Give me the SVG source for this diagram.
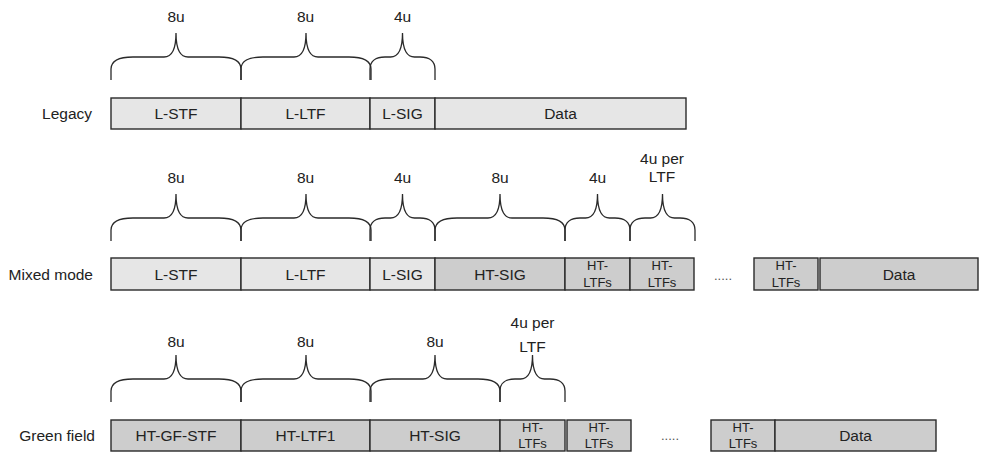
<svg xmlns="http://www.w3.org/2000/svg" xmlns:xlink="http://www.w3.org/1999/xlink" width="982" height="453" viewBox="0 0 982 453">
<style>
text{font-family:"Liberation Sans",Arial,sans-serif;fill:#222;}
.lbl{font-size:15.5px;text-anchor:middle;}
.row{font-size:15.5px;text-anchor:end;}
.sm{font-size:13px;text-anchor:middle;}
.dots{font-size:13px;text-anchor:middle;fill:#555;}
.lt{fill:#e6e6e6;stroke:#2a2a2a;stroke-width:1.4;}
.dk{fill:#cdcdcd;stroke:#2a2a2a;stroke-width:1.4;}
.br{fill:none;stroke:#2a2a2a;stroke-width:1.3;}
</style>
<defs>
<path id="b8" class="br" d="M0,47 V36 C0,28 7,24 22,24 H53 C60,24 65,18 65,0 C65,18 70,24 77,24 H108 C123,24 130,28 130,36 V47"/>
<path id="b4" class="br" d="M0,47 V36 C0,28 6,24 15,24 H20.5 C27.5,24 32.5,18 32.5,0 C32.5,18 37.5,24 44.5,24 H50 C59,24 65,28 65,36 V47"/>
</defs>
<rect width="982" height="453" fill="#fff"/>

<g id="connectors">
<use xlink:href="#b8" href="#b8" x="111" y="33"/>
<use xlink:href="#b8" href="#b8" x="241" y="33"/>
<use xlink:href="#b4" href="#b4" x="370" y="33"/>
<use xlink:href="#b8" href="#b8" x="111" y="194"/>
<use xlink:href="#b8" href="#b8" x="241" y="194"/>
<use xlink:href="#b4" href="#b4" x="370" y="194"/>
<use xlink:href="#b8" href="#b8" x="435" y="194"/>
<use xlink:href="#b4" href="#b4" x="565" y="194"/>
<use xlink:href="#b4" href="#b4" x="630" y="194"/>
<use xlink:href="#b8" href="#b8" x="111" y="355"/>
<use xlink:href="#b8" href="#b8" x="241" y="355"/>
<use xlink:href="#b8" href="#b8" x="370" y="355"/>
<use xlink:href="#b4" href="#b4" x="500" y="355"/>
</g>

<g id="durations">
<text class="lbl" x="176" y="22">8u</text>
<text class="lbl" x="305.5" y="22">8u</text>
<text class="lbl" x="402.5" y="22">4u</text>
<text class="lbl" x="176" y="183">8u</text>
<text class="lbl" x="305.5" y="183">8u</text>
<text class="lbl" x="402.5" y="183">4u</text>
<text class="lbl" x="500" y="183">8u</text>
<text class="lbl" x="597.5" y="183">4u</text>
<text class="lbl" x="662" y="164">4u per</text>
<text class="lbl" x="662" y="182">LTF</text>
<text class="lbl" x="176" y="347">8u</text>
<text class="lbl" x="305.5" y="347">8u</text>
<text class="lbl" x="435" y="347">8u</text>
<text class="lbl" x="532.5" y="328">4u per</text>
<text class="lbl" x="532.5" y="352">LTF</text>
</g>

<g id="legacy">
<text class="row" x="92" y="119">Legacy</text>
<g id="legacy-lstf"><rect class="lt" x="111" y="98" width="130" height="31"/><text class="lbl" x="176" y="119">L-STF</text></g>
<g id="legacy-lltf"><rect class="lt" x="241" y="98" width="129" height="31"/><text class="lbl" x="305.5" y="119">L-LTF</text></g>
<g id="legacy-lsig"><rect class="lt" x="370" y="98" width="65" height="31"/><text class="lbl" x="402.5" y="119">L-SIG</text></g>
<g id="legacy-data"><rect class="lt" x="435" y="98" width="251" height="31"/><text class="lbl" x="560.5" y="119">Data</text></g>
</g>

<g id="mixed">
<text class="row" x="93" y="280">Mixed mode</text>
<g id="mixed-lstf"><rect class="lt" x="111" y="258" width="130" height="32"/><text class="lbl" x="176" y="280">L-STF</text></g>
<g id="mixed-lltf"><rect class="lt" x="241" y="258" width="129" height="32"/><text class="lbl" x="305.5" y="280">L-LTF</text></g>
<g id="mixed-lsig"><rect class="lt" x="370" y="258" width="65" height="32"/><text class="lbl" x="402.5" y="280">L-SIG</text></g>
<g id="mixed-htsig"><rect class="dk" x="435" y="258" width="130" height="32"/><text class="lbl" x="500" y="280">HT-SIG</text></g>
<g id="mixed-htltf1"><rect class="dk" x="565" y="258" width="65" height="32"/><text class="sm" x="597.5" y="270">HT-</text><text class="sm" x="597.5" y="287">LTFs</text></g>
<g id="mixed-htltf2"><rect class="dk" x="630" y="258" width="64" height="32"/><text class="sm" x="662" y="270">HT-</text><text class="sm" x="662" y="287">LTFs</text></g>
<text class="dots" x="723" y="280">.....</text>
<g id="mixed-htltfn"><rect class="dk" x="754" y="258" width="64" height="32"/><text class="sm" x="786" y="270">HT-</text><text class="sm" x="786" y="287">LTFs</text></g>
<g id="mixed-data"><rect class="dk" x="820" y="258" width="158" height="32"/><text class="lbl" x="899" y="280">Data</text></g>
</g>

<g id="green">
<text class="row" x="95" y="441">Green field</text>
<g id="green-gfstf"><rect class="dk" x="111" y="420" width="130" height="31"/><text class="lbl" x="176" y="441">HT-GF-STF</text></g>
<g id="green-htltf1"><rect class="dk" x="241" y="420" width="129" height="31"/><text class="lbl" x="305.5" y="441">HT-LTF1</text></g>
<g id="green-htsig"><rect class="dk" x="370" y="420" width="130" height="31"/><text class="lbl" x="435" y="441">HT-SIG</text></g>
<g id="green-htltfs1"><rect class="dk" x="500" y="420" width="65" height="31"/><text class="sm" x="532.5" y="432">HT-</text><text class="sm" x="532.5" y="448">LTFs</text></g>
<g id="green-htltfs2"><rect class="dk" x="567" y="420" width="64" height="31"/><text class="sm" x="599" y="432">HT-</text><text class="sm" x="599" y="448">LTFs</text></g>
<text class="dots" x="670" y="440">.....</text>
<g id="green-htltfsn"><rect class="dk" x="711" y="420" width="64" height="31"/><text class="sm" x="743" y="432">HT-</text><text class="sm" x="743" y="448">LTFs</text></g>
<g id="green-data"><rect class="dk" x="775" y="420" width="161" height="31"/><text class="lbl" x="855.5" y="441">Data</text></g>
</g>
</svg>
